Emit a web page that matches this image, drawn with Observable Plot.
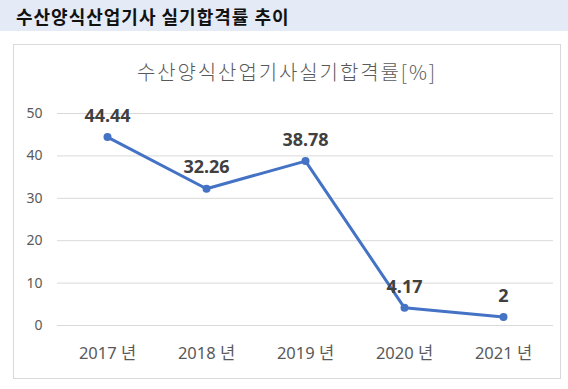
<!DOCTYPE html>
<html>
<head>
<meta charset="utf-8">
<script src="https://cdn.jsdelivr.net/npm/d3@7"></script>
<script src="https://cdn.jsdelivr.net/npm/@observablehq/plot@0.6"></script>
<style>
  html, body { margin: 0; padding: 0; background: #fff; width: 568px; height: 389px; overflow: hidden; }
  body { position: relative; font-family: "Noto Sans", "Noto Sans CJK KR", sans-serif; }
  #header { position: absolute; left: 0; top: 0; width: 568px; height: 31px; background: #E4EAF6; }
  #header span { position: absolute; left: 16px; top: 3px; font-size: 18px; letter-spacing: 1px; font-weight: 700; color: #111; font-family: "Noto Sans CJK KR", sans-serif; }
  #box { position: absolute; left: 13px; top: 44px; width: 548px; height: 335px; border: 1px solid #D9D9D9; box-sizing: border-box; }
  #title { position: absolute; left: 13px; top: 57px; width: 548px; text-align: center; font-size: 20px; letter-spacing: 1.9px; color: #595959; font-weight: 300; font-family: "Noto Sans CJK KR", sans-serif; }
  #chart { position: absolute; left: 14px; top: 90px; }
</style>
</head>
<body>
<div id="header"><span>수산양식산업기사 실기합격률 추이</span></div>
<div id="box"></div>
<div id="title">수산양식산업기사실기합격률[%]</div>
<div id="chart"></div>
<script>
const years = ["2017 년", "2018 년", "2019 년", "2020 년", "2021 년"];
const rates = [44.44, 32.26, 38.78, 4.17, 2];
const yTicks = [0, 10, 20, 30, 40, 50];

const data = years.map((y, i) => ({year: y, rate: rates[i]}));

const chart = Plot.plot({
  width: 547,
  height: 289,
  marginLeft: 43,
  marginRight: 8,
  marginTop: 23,
  marginBottom: 54,
  style: { fontFamily: '"Noto Sans", "Noto Sans CJK KR", sans-serif', background: "transparent" },
  x: { type: "point", domain: years, padding: 0.5, label: null },
  y: { domain: [0, 50], label: null },
  marks: [
    Plot.gridY(yTicks, { stroke: "#D9D9D9", strokeOpacity: 1, strokeWidth: 1 }),
    Plot.axisY(yTicks, { tickSize: 0, tickPadding: 15, fontSize: 14, fill: "#595959", label: null }),
    Plot.axisX(years, { tickSize: 0, tickPadding: 22, fontSize: 16.5, fill: "#595959", label: null }),
    Plot.line(data, { x: "year", y: "rate", stroke: "#4472C4", strokeWidth: 3 }),
    Plot.dot(data, { x: "year", y: "rate", fill: "#4472C4", r: 4 }),
    Plot.text(data, { x: "year", y: "rate", text: d => String(d.rate), dy: -21, fontSize: 18, fontWeight: "bold", fill: "#404040" })
  ]
});
document.getElementById("chart").appendChild(chart);
</script>
</body>
</html>
